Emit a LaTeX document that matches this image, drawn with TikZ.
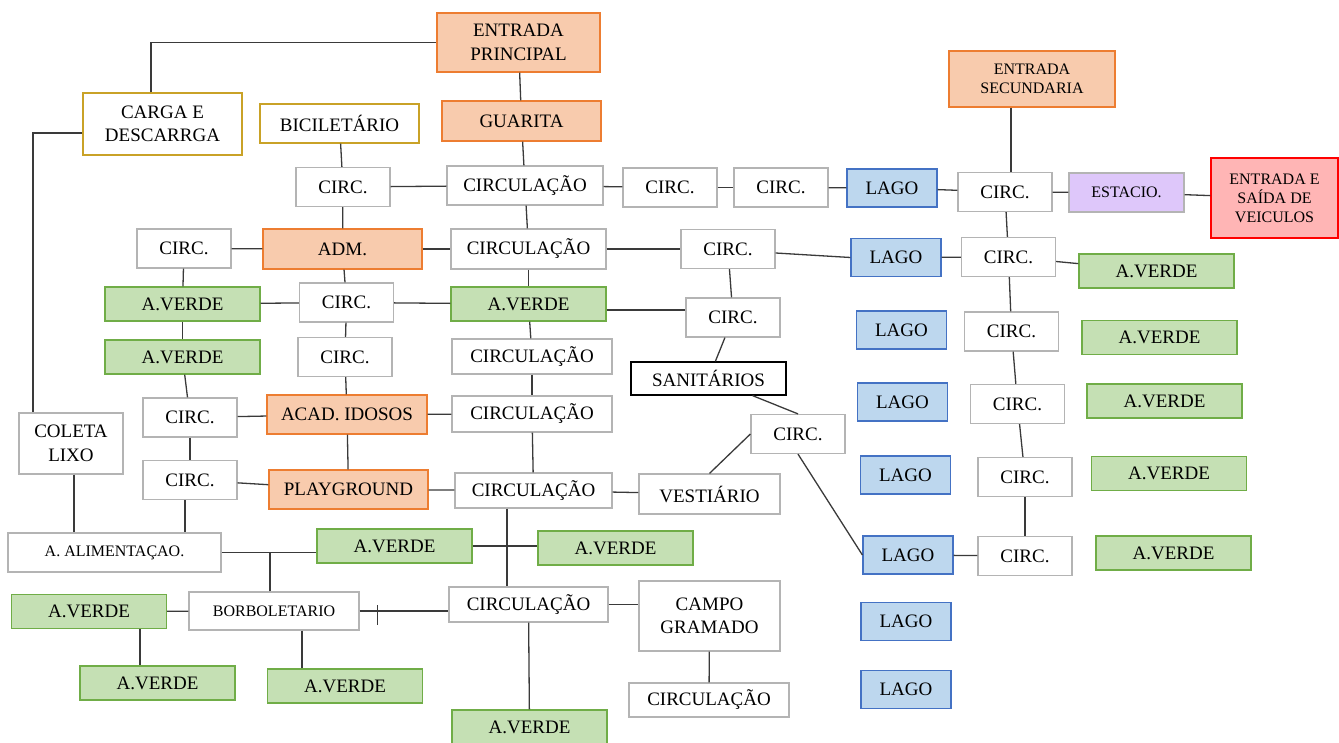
\documentclass[tikz,border=0pt]{standalone}
\usepackage{fontspec}
\setmainfont{Liberation Serif}
\usepackage{tikz}
\usetikzlibrary{positioning}
\definecolor{laranjafundo}{HTML}{F8CBAD}
\definecolor{laranjaborda}{HTML}{ED7D31}
\definecolor{verdefundo}{HTML}{C5E0B4}
\definecolor{verdeborda}{HTML}{70AD47}
\definecolor{azulfundo}{HTML}{BDD7EE}
\definecolor{azulborda}{HTML}{4472C4}
\definecolor{cinza}{HTML}{B4B4B4}
\definecolor{dourado}{HTML}{C9A227}
\definecolor{lilasfundo}{HTML}{DEC7FA}
\definecolor{vermfundo}{HTML}{FFB5B5}
\definecolor{vermborda}{HTML}{FF0000}
\definecolor{linha}{HTML}{3A3A3A}

\begin{document}
\begin{tikzpicture}[x=1pt, y=-1pt,
    caixa/.style={rectangle, draw, line width=1.2pt, inner sep=0pt, align=center, text=black, font=\fontsize{19}{23.5}\selectfont},
    miuda/.style={font=\fontsize{16}{19}\selectfont},
    circ/.style={caixa, draw=cinza, fill=white, minimum width=94pt, minimum height=39pt},
    circul/.style={caixa, draw=cinza, fill=white, minimum width=159pt, minimum height=36pt},
    laranja/.style={caixa, draw=laranjaborda, fill=laranjafundo, minimum width=159pt, minimum height=40pt},
    verde/.style={caixa, draw=verdeborda, fill=verdefundo, minimum width=155pt, minimum height=34pt},
    lago/.style={caixa, draw=azulborda, fill=azulfundo, minimum width=90pt, minimum height=38pt},
    ouro/.style={caixa, draw=dourado, fill=white, minimum width=159pt},
    liga/.style={draw=linha, line width=1.3pt}]
  \useasboundingbox (0,0) rectangle (1339,743);

  % entradas e acessos
  \node[laranja, minimum width=163pt, minimum height=59pt] (entp) at (518.5,42.5) {ENTRADA\\PRINCIPAL};
  \node[laranja] (guar) at (521.5,121) {GUARITA};
  \node[laranja, miuda, minimum width=166pt, minimum height=56pt] (ents) at (1032,79) {ENTRADA\\SECUNDARIA};
  \node[caixa, miuda, draw=vermborda, fill=vermfundo, minimum width=127pt, minimum height=80pt] (saida) at (1274.5,198) {ENTRADA E\\SAÍDA DE\\VEICULOS};
  \node[caixa, miuda, draw=cinza, fill=lilasfundo, minimum width=115pt, minimum height=39pt] (estac) at (1126.5,192.5) {ESTACIO.};
  \node[ouro, minimum height=62pt] (carga) at (162.5,124) {CARGA E\\DESCARRGA};
  \node[ouro, minimum height=39pt] (bici) at (339.5,123.5) {BICILETÁRIO};

  % equipamentos
  \node[laranja] (adm) at (342.5,249) {ADM.};
  \node[laranja, minimum width=160pt, minimum height=39pt] (acad) at (347,414.5) {ACAD. IDOSOS};
  \node[laranja, minimum height=39pt] (play) at (348.5,489.5) {PLAYGROUND};
  \node[caixa, draw=cinza, minimum width=104pt, minimum height=61pt] (coleta) at (71,443.5) {COLETA\\LIXO};
  \node[caixa, miuda, draw=cinza, minimum width=213pt, minimum height=39pt] (alim) at (114.5,552.5) {A. ALIMENTAÇAO.};
  \node[caixa, miuda, draw=cinza, minimum width=170pt, minimum height=38pt] (borb) at (274,611) {BORBOLETARIO};
  \node[caixa, draw=black, minimum width=155pt, minimum height=33pt] (sanit) at (708.5,378.5) {SANITÁRIOS};
  \node[caixa, draw=cinza, minimum width=141pt, minimum height=40pt] (vest) at (709.5,494) {VESTIÁRIO};
  \node[caixa, draw=cinza, minimum width=141pt, minimum height=70pt] (campo) at (709.5,616) {CAMPO\\GRAMADO};

  % circulacao
  \node[circ] (ca) at (343,187) {CIRC.};
  \node[circ] (cb) at (184,248.5) {CIRC.};
  \node[circ] (cc) at (346.5,302.5) {CIRC.};
  \node[circ] (cd) at (345,357) {CIRC.};
  \node[circ] (ce) at (190,417.5) {CIRC.};
  \node[circ] (cf) at (190,480) {CIRC.};
  \node[circ] (c2) at (670,187.5) {CIRC.};
  \node[circ] (c3) at (781,187.5) {CIRC.};
  \node[circ] (cg) at (728,249) {CIRC.};
  \node[circ] (ch) at (733,317.5) {CIRC.};
  \node[circ] (ci) at (798,434) {CIRC.};
  \node[circ] (r1) at (1005,192) {CIRC.};
  \node[circ] (r2) at (1008.5,257) {CIRC.};
  \node[circ] (r3) at (1011.5,331.5) {CIRC.};
  \node[circ] (r4) at (1017.5,404) {CIRC.};
  \node[circ] (r5) at (1025,477) {CIRC.};
  \node[circ] (r6) at (1025,556) {CIRC.};
  \node[circul, minimum width=156pt, minimum height=39pt] (k1) at (525,185.5) {CIRCULAÇÃO};
  \node[circul, minimum width=155pt, minimum height=40pt] (k2) at (528.5,249) {CIRCULAÇÃO};
  \node[circul, minimum width=160pt, minimum height=35pt] (k3) at (532,356.5) {CIRCULAÇÃO};
  \node[circul, minimum width=160pt] (k4) at (532,414) {CIRCULAÇÃO};
  \node[circul, minimum width=157pt, minimum height=35pt] (k5) at (533.5,490.5) {CIRCULAÇÃO};
  \node[circul, minimum height=35pt] (k6) at (528.5,604.5) {CIRCULAÇÃO};
  \node[circul, minimum width=160pt, minimum height=34pt] (k7) at (709,700) {CIRCULAÇÃO};

  % lagos
  \node[lago] (l1) at (892,188) {LAGO};
  \node[lago] (l2) at (896,257.5) {LAGO};
  \node[lago] (l3) at (901.5,330) {LAGO};
  \node[lago] (l4) at (902.5,402) {LAGO};
  \node[lago] (l5) at (905.5,475) {LAGO};
  \node[lago] (l6) at (908,555) {LAGO};
  \node[lago] (l7) at (906,621.5) {LAGO};
  \node[lago] (l8) at (906,689.5) {LAGO};

  % areas verdes
  \node[verde] (g1) at (182.5,304) {A.VERDE};
  \node[verde] (g2) at (182.5,357) {A.VERDE};
  \node[verde] (g3) at (528.5,304) {A.VERDE};
  \node[verde] (g4) at (394.5,546) {A.VERDE};
  \node[verde] (g5) at (615.5,548) {A.VERDE};
  \node[verde] (g6) at (89,611.5) {A.VERDE};
  \node[verde] (g7) at (157.5,683) {A.VERDE};
  \node[verde] (g8) at (345,686) {A.VERDE};
  \node[verde] (g9) at (529.5,727) {A.VERDE};
  \node[verde] (rg1) at (1156.5,271) {A.VERDE};
  \node[verde] (rg2) at (1159.5,337.5) {A.VERDE};
  \node[verde] (rg3) at (1164.5,401) {A.VERDE};
  \node[verde] (rg4) at (1169,473.5) {A.VERDE};
  \node[verde] (rg5) at (1173.5,553) {A.VERDE};

  % ligacoes
  \draw[liga] ([xshift=-11.5pt]carga.north) |- (entp.west);
  \draw[liga] ([yshift=-9pt]carga.west) -| ([xshift=-38pt]coleta.north);
  \draw[liga] (entp) -- (guar);
  \draw[liga] (guar) -- (k1);
  \draw[liga] (bici) -- (ca);
  \draw[liga] (ca) -- (k1);
  \draw[liga] (k1) -- (c2);
  \draw[liga] (c2) -- (c3);
  \draw[liga] (c3) -- (l1);
  \draw[liga] (l1) -- (r1);
  \draw[liga] (r1) -- (estac);
  \draw[liga] (estac) -- (saida);
  \draw[liga] ([xshift=-21pt]ents.south) -- ([xshift=-21pt]ents.south |- r1.north);
  \draw[liga] (r1) -- (r2);
  \draw[liga] (r2) -- (r3);
  \draw[liga] (r3) -- (r4);
  \draw[liga] (r4) -- (r5);
  \draw[liga] (r5) -- (r6);
  \draw[liga] (r6) -- (l6);
  \draw[liga] (k1) -- (k2);
  \draw[liga] (ca) -- (adm);
  \draw[liga] (cb) -- (adm);
  \draw[liga] (adm) -- (k2);
  \draw[liga] (k2) -- (cg);
  \draw[liga] ([yshift=-4pt]cg.east) -- (l2.west);
  \draw[liga] (l2) -- (r2);
  \draw[liga] (r2) -- (rg1);
  \draw[liga] (cb) -- (g1);
  \draw[liga] (adm) -- (cc);
  \draw[liga] (g1) -- (cc);
  \draw[liga] (cc) -- (g3);
  \draw[liga] (k2) -- (g3);
  \draw[liga] (cg) -- (ch);
  \draw[liga] ([yshift=-6pt]g3.east) -- ([yshift=-6pt]g3.east -| ch.west);
  \draw[liga] (ch) -- (sanit);
  \draw[liga] (g3) -- (k3);
  \draw[liga] (cc) -- (cd);
  \draw[liga] (g1) -- (g2);
  \draw[liga] (g2) -- (ce);
  \draw[liga] (cd) -- (acad);
  \draw[liga] (ce) -- (acad);
  \draw[liga] (acad) -- (k4);
  \draw[liga] (k3) -- (k4);
  \draw[liga] (ce) -- (cf);
  \draw[liga] (acad) -- (play);
  \draw[liga] (cf) -- (play);
  \draw[liga] (play) -- (k5);
  \draw[liga] (k4) -- (k5);
  \draw[liga] (k5) -- (vest);
  \draw[liga] (vest.north) -- (ci.west);
  \draw[liga] ([xshift=44pt]sanit.south) -- (ci.north);
  \draw[liga] (ci.south) -- (l6.west);
  \draw[liga] ([xshift=-26.5pt]k5.south) -- ([xshift=-26.5pt]k5.south |- k6.north);
  \draw[liga] (g4.east) -- (g4.east -| g5.west);
  \draw[liga] (alim.east) -- (alim.east -| g4.west);
  \draw[liga] ([xshift=-4pt]borb.north) -- ([xshift=-4pt]borb.north |- alim.east);
  \draw[liga] ([xshift=3pt]coleta.south) -- ([xshift=3pt]coleta.south |- alim.north);
  \draw[liga] ([xshift=-5pt]cf.south) -- ([xshift=-5pt]cf.south |- alim.north);
  \draw[liga] (g6) -- (borb);
  \draw[liga] ([xshift=51pt]g6.south) -- ([xshift=51pt]g6.south |- g7.north);
  \draw[liga] ([xshift=28pt]borb.south) -- ([xshift=28pt]borb.south |- g8.north);
  \draw[liga] (borb.east) -- (borb.east -| k6.west);
  \draw[liga] ([xshift=18pt]borb.east) ++(0,-6) -- ++(0,20);
  \draw[liga] (k6.east) -- (k6.east -| campo.west);
  \draw[liga] (k6) -- (g9);
  \draw[liga] (campo) -- (k7);
\end{tikzpicture}
\end{document}
